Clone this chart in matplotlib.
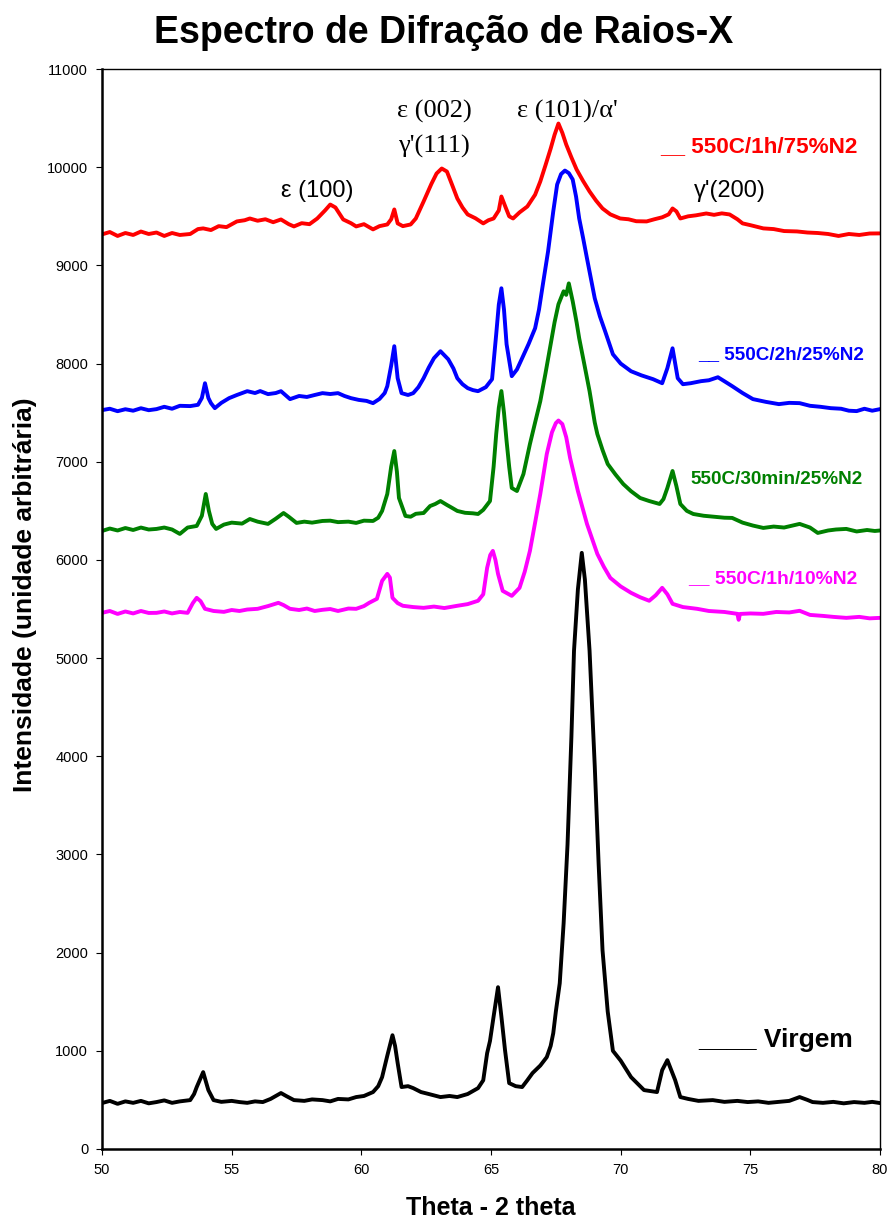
import matplotlib
matplotlib.use("Agg")
import matplotlib.pyplot as plt

# Espectros de difracao
red_x = [50.0, 50.3, 50.6, 50.9, 51.2, 51.5, 51.8, 52.1, 52.4, 52.7, 53.0, 53.4, 53.7, 53.9, 54.2, 54.5, 54.8,
         55.2, 55.5, 55.7, 56.0, 56.3, 56.6, 56.9, 57.2, 57.4, 57.7, 58.0, 58.3, 58.6, 58.8, 59.0, 59.3, 59.6,
         59.8, 60.1, 60.45, 60.7, 61.0, 61.15, 61.27, 61.4, 61.6, 61.9, 62.1, 62.4, 62.7, 62.9, 63.1, 63.3,
         63.5, 63.7, 63.9, 64.1, 64.4, 64.7, 64.9, 65.1, 65.3, 65.4, 65.55, 65.7, 65.85, 66.1, 66.4, 66.7,
         66.9, 67.1, 67.3, 67.45, 67.6, 67.75, 67.9, 68.1, 68.3, 68.55, 68.8, 69.05, 69.3, 69.6, 69.98, 70.3,
         70.6, 71.0, 71.3, 71.6, 71.85, 72.0, 72.15, 72.3, 72.6, 72.9, 73.3, 73.6, 73.9, 74.2, 74.5, 74.7,
         75.0, 75.5, 75.9, 76.3, 76.8, 77.2, 77.6, 78.0, 78.4, 78.8, 79.2, 79.6, 80.0]
red_y = [9316, 9340, 9300, 9330, 9310, 9345, 9320, 9335, 9300, 9330, 9310, 9320, 9370, 9377, 9360, 9400, 9390,
         9448, 9460, 9478, 9455, 9470, 9440, 9468, 9420, 9397, 9430, 9420, 9478, 9560, 9620, 9590, 9468, 9430,
         9397, 9420, 9367, 9400, 9417, 9470, 9570, 9428, 9400, 9417, 9478, 9651, 9830, 9936, 9987, 9956,
         9820, 9682, 9590, 9519, 9480, 9428, 9460, 9478, 9560, 9702, 9600, 9500, 9478, 9540, 9600, 9720,
         9855, 10020, 10190, 10330, 10445, 10350, 10231, 10100, 9977, 9860, 9753, 9660, 9580, 9520, 9478, 9470,
         9450, 9448, 9470, 9490, 9520, 9580, 9550, 9478, 9500, 9510, 9529, 9515, 9530, 9519, 9470, 9428,
         9410, 9377, 9370, 9350, 9346, 9335, 9330, 9320, 9300, 9320, 9310, 9325, 9326]

blue_x = [50.0, 50.3, 50.6, 50.9, 51.2, 51.5, 51.8, 52.1, 52.4, 52.7, 53.0, 53.4, 53.7, 53.85, 53.97, 54.1, 54.2,
          54.35, 54.6, 54.9, 55.2, 55.6, 55.9, 56.1, 56.4, 56.7, 56.9, 57.25, 57.6, 57.9, 58.2, 58.5, 58.8,
          59.1, 59.35, 59.6, 59.9, 60.2, 60.45, 60.7, 60.9, 61.0, 61.15, 61.27, 61.4, 61.55, 61.8, 62.0, 62.2,
          62.4, 62.6, 62.8, 63.05, 63.35, 63.55, 63.7, 63.9, 64.1, 64.3, 64.5, 64.8, 65.04, 65.2, 65.3, 65.4,
          65.5, 65.6, 65.8, 66.0, 66.2, 66.45, 66.7, 66.85, 67.0, 67.2, 67.4, 67.55, 67.7, 67.85, 68.0, 68.15,
          68.28, 68.4, 68.55, 68.7, 69.0, 69.2, 69.4, 69.7, 70.0, 70.4, 70.8, 71.25, 71.6, 71.8, 72.0, 72.2,
          72.4, 72.7, 73.1, 73.4, 73.75, 74.0, 74.3, 74.7, 75.1, 75.6, 76.1, 76.5, 76.9, 77.3, 77.7, 78.1,
          78.5, 78.8, 79.1, 79.4, 79.7, 80.0]
blue_y = [7526, 7540, 7515, 7535, 7520, 7545, 7525, 7536, 7560, 7540, 7570, 7567, 7580, 7650, 7800, 7650, 7597,
          7546, 7600, 7648, 7680, 7719, 7700, 7720, 7689, 7700, 7719, 7638, 7670, 7660, 7680, 7699, 7690,
          7699, 7670, 7648, 7630, 7620, 7597, 7640, 7700, 7770, 7980, 8177, 7851, 7699, 7680, 7699, 7760,
          7851, 7960, 8055, 8126, 8044, 7950, 7851, 7790, 7750, 7730, 7719, 7760, 7841, 8299, 8600, 8767,
          8550, 8197, 7872, 7940, 8055, 8200, 8360, 8550, 8807, 9143, 9550, 9824, 9930, 9966, 9940, 9875,
          9700, 9478, 9280, 9072, 8665, 8480, 8329, 8095, 8000, 7922, 7880, 7841, 7800, 7953, 8156, 7851,
          7790, 7800, 7821, 7830, 7861, 7820, 7770, 7700, 7638, 7610, 7587, 7600, 7597, 7570, 7560, 7546,
          7540, 7520, 7516, 7540, 7520, 7536]

green_x = [50.0, 50.3, 50.6, 50.9, 51.2, 51.5, 51.8, 52.1, 52.4, 52.7, 53.0, 53.3, 53.65, 53.85, 54.0, 54.12,
           54.25, 54.4, 54.7, 55.0, 55.4, 55.7, 56.0, 56.4, 56.7, 57.0, 57.2, 57.5, 57.8, 58.1, 58.5, 58.8,
           59.1, 59.5, 59.8, 60.1, 60.45, 60.65, 60.8, 61.0, 61.15, 61.27, 61.37, 61.45, 61.7, 61.9, 62.1,
           62.4, 62.65, 62.85, 63.05, 63.3, 63.5, 63.7, 64.0, 64.3, 64.5, 64.7, 64.96, 65.1, 65.2, 65.3, 65.4,
           65.5, 65.6, 65.7, 65.8, 66.0, 66.25, 66.5, 66.7, 66.9, 67.1, 67.3, 67.45, 67.6, 67.8, 67.9, 68.0,
           68.15, 68.3, 68.4, 68.6, 68.8, 69.0, 69.1, 69.3, 69.5, 69.8, 70.1, 70.4, 70.75, 71.1, 71.5, 71.65,
           71.8, 72.0, 72.15, 72.3, 72.55, 72.8, 73.2, 73.6, 74.0, 74.3, 74.7, 75.1, 75.5, 75.9, 76.3, 76.9,
           77.3, 77.6, 78.0, 78.3, 78.7, 79.1, 79.5, 79.8, 80.0]
green_y = [6295, 6320, 6300, 6325, 6305, 6330, 6310, 6316, 6330, 6310, 6265, 6330, 6346, 6450, 6672, 6500,
           6367, 6316, 6360, 6380, 6370, 6417, 6390, 6367, 6420, 6478, 6440, 6377, 6390, 6380, 6397, 6400,
           6385, 6390, 6377, 6400, 6397, 6430, 6499, 6672, 6950, 7109, 6900, 6631, 6448, 6440, 6470,
           6478, 6549, 6570, 6600, 6560, 6530, 6499, 6480, 6475, 6468, 6510, 6600, 6950, 7282, 7550, 7720,
           7500, 7211, 6950, 6733, 6702, 6875, 7180, 7400, 7617, 7900, 8197, 8420, 8604, 8736, 8700, 8817,
           8634, 8420, 8258, 7990, 7719, 7400, 7282, 7120, 6977, 6870, 6773, 6700, 6631, 6600, 6570, 6620,
           6733, 6906, 6750, 6570, 6500, 6468, 6450, 6440, 6430, 6428, 6380, 6350, 6326, 6340, 6330, 6367,
           6330, 6275, 6300, 6310, 6316, 6290, 6305, 6295, 6300]

mag_x = [50.0, 50.3, 50.6, 50.9, 51.2, 51.5, 51.8, 52.1, 52.4, 52.7, 53.0, 53.3, 53.5, 53.65, 53.8, 53.97,
         54.3, 54.7, 55.0, 55.3, 55.6, 56.0, 56.4, 56.8, 57.0, 57.25, 57.6, 57.9, 58.2, 58.5, 58.8, 59.1,
         59.5, 59.8, 60.1, 60.3, 60.6, 60.8, 61.0, 61.1, 61.2, 61.4, 61.6, 62.0, 62.4, 62.8, 63.2, 63.7,
         64.1, 64.5, 64.7, 64.85, 64.97, 65.07, 65.17, 65.27, 65.45, 65.8, 66.1, 66.3, 66.5, 66.7, 66.9,
         67.15, 67.35, 67.5, 67.6, 67.75, 67.9, 68.05, 68.35, 68.7, 69.1, 69.35, 69.6, 70.0, 70.4, 70.75,
         71.1, 71.35, 71.6, 71.8, 72.0, 72.4, 72.95, 73.4, 74.0, 74.5, 74.55, 74.6, 75.0, 75.5, 76.0, 76.5,
         76.9, 77.3, 77.8, 78.2, 78.7, 79.2, 79.6, 80.0]
mag_y = [5461, 5480, 5450, 5475, 5455, 5480, 5460, 5461, 5475, 5455, 5470, 5461, 5560, 5614, 5580, 5502,
         5480, 5471, 5490, 5480, 5495, 5502, 5530, 5563, 5540, 5502, 5490, 5505, 5480, 5492, 5500, 5480,
         5505, 5502, 5530, 5563, 5604, 5787, 5858, 5820, 5614, 5560, 5533, 5520, 5512, 5525, 5510, 5533,
         5550, 5584, 5650, 5919, 6050, 6092, 6000, 5858, 5685, 5634, 5716, 5880, 6092, 6380, 6672,
         7079, 7300, 7394, 7420, 7384, 7250, 7038, 6702, 6367, 6061, 5930, 5817, 5730, 5665, 5620,
         5584, 5640, 5716, 5650, 5553, 5520, 5502, 5480, 5470, 5451, 5390, 5450, 5455, 5451, 5470, 5465,
         5482, 5440, 5430, 5420, 5410, 5420, 5405, 5410]

blk_x = [50.0, 50.3, 50.6, 50.9, 51.2, 51.5, 51.8, 52.1, 52.4, 52.7, 53.0, 53.4, 53.55, 53.65, 53.9, 54.1,
         54.3, 54.6, 55.0, 55.3, 55.6, 55.9, 56.2, 56.5, 56.9, 57.1, 57.4, 57.8, 58.1, 58.5, 58.8, 59.1,
         59.5, 59.8, 60.1, 60.45, 60.65, 60.8, 61.0, 61.2, 61.3, 61.4, 61.55, 61.8, 62.0, 62.3, 62.6, 63.05,
         63.4, 63.7, 64.1, 64.5, 64.7, 64.85, 64.96, 65.1, 65.27, 65.4, 65.54, 65.7, 65.95, 66.2, 66.4,
         66.6, 66.9, 67.15, 67.3, 67.4, 67.5, 67.65, 67.8, 67.95, 68.1, 68.2, 68.35, 68.5, 68.62, 68.8,
         69.0, 69.15, 69.3, 69.5, 69.7, 70.0, 70.4, 70.9, 71.4, 71.6, 71.8, 72.1, 72.3, 72.6, 73.0, 73.55,
         74.0, 74.5, 74.9, 75.3, 75.7, 76.1, 76.5, 76.9, 77.2, 77.4, 77.8, 78.2, 78.6, 79.0, 79.4, 79.7, 80.0]
blk_y = [468, 490, 460, 485, 470, 490, 465, 478, 495, 470, 485, 498, 560, 630, 783, 600,
         498, 480, 490, 478, 470, 485, 478, 510, 570, 540, 498, 490, 505, 498, 485, 510,
         505, 529, 540, 580, 640, 732, 950, 1159, 1050, 875, 631, 640, 620, 580, 560, 529,
         540, 529, 560, 620, 700, 976, 1100, 1350, 1648, 1350, 1007, 671, 640, 631, 700,
         773, 850, 936, 1050, 1180, 1400, 1688, 2300, 3100, 4200, 5075, 5700, 6072, 5800, 5075,
         3900, 2900, 2024, 1400, 1000, 900, 732, 600, 580, 803, 905, 702, 529, 510, 490, 498,
         480, 490, 478, 485, 470, 480, 490, 529, 500, 478, 470, 480, 465, 478, 470, 480, 468]

yticks = list(range(0, 11001, 1000))
xticks = [50, 55, 60, 65, 70, 75, 80]

plt.rcParams['font.family'] = ['Liberation Sans', 'DejaVu Sans']

fig = plt.figure(figsize=(8.88, 12.2), dpi=100)
ax = fig.add_axes([0.1149, 0.0582, 0.8761, 0.8852])

lw = 2.8
ax.plot(red_x, red_y, color='#ff0000', lw=lw)
ax.plot(blue_x, blue_y, color='#0000ff', lw=lw)
ax.plot(green_x, green_y, color='#008000', lw=lw)
ax.plot(mag_x, mag_y, color='#ff00ff', lw=lw)
ax.plot(blk_x, blk_y, color='black', lw=lw)

ax.set_xlim(50, 80)
ax.set_ylim(0, 11000)
ax.set_xticks(xticks)
ax.set_yticks(yticks)
ax.tick_params(direction='out', length=4, labelsize=10.5)
ax.tick_params(axis='y', pad=6)
ax.tick_params(axis='x', pad=6)
for s in ['left', 'bottom']:
    ax.spines[s].set_linewidth(1.8)
for s in ['top', 'right']:
    ax.spines[s].set_linewidth(1.0)

ax.set_xlabel('Theta - 2 theta', fontsize=18, fontweight='bold', labelpad=14)
ax.set_ylabel('Intensidade (unidade arbitrária)', fontsize=19, fontweight='bold')
ax.yaxis.set_label_coords(-0.084, 0.513)
fig.suptitle('Espectro de Difração de Raios-X', fontsize=27, fontweight='bold', y=0.973, va='center')

# anotacoes dos picos
serif = ['Liberation Serif', 'DejaVu Serif']
ax.text(58.3, 9753, 'ε (100)', fontsize=17, ha='center', va='center')
ax.text(62.8, 10566, 'ε (002)', fontsize=19, family=serif, ha='center', va='center')
ax.text(62.8, 10210, "γ'(111)", fontsize=19, family=serif, ha='center', va='center')
ax.text(67.93, 10566, "ε (101)/α'", fontsize=19, family=serif, ha='center', va='center')
ax.text(74.2, 9753, "γ'(200)", fontsize=17, ha='center', va='center')

# rotulos das curvas
ax.text(71.52, 10210, '__ 550C/1h/75%N2', color='#ff0000', fontsize=16.2, fontweight='bold', va='center')
ax.text(72.98, 8095, '__ 550C/2h/25%N2', color='#0000ff', fontsize=13.6, fontweight='bold', va='center')
ax.text(72.68, 6824, '550C/30min/25%N2', color='#008000', fontsize=13.6, fontweight='bold', va='center')
ax.text(72.6, 5807, '__ 550C/1h/10%N2', color='#ff00ff', fontsize=13.9, fontweight='bold', va='center')
ax.text(72.98, 1108, '____ Virgem', color='black', fontsize=19, fontweight='bold', va='center')

fig.savefig('out.png', dpi=100)
